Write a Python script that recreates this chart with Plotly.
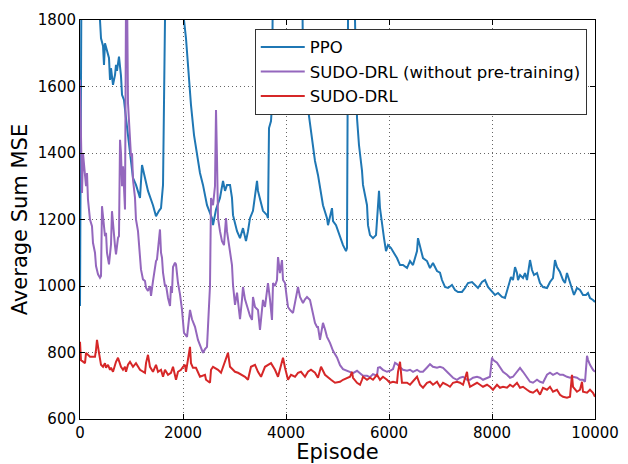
import plotly.graph_objects as go

# ---- data ----
ppo_ep = [0, 19, 39, 350, 369, 388, 408, 447, 466, 485, 524, 563, 583, 602, 641, 680, 699, 718, 757, 796, 816, 854, 893, 932, 971,
          1029, 1087, 1165, 1204, 1262, 1320, 1417, 1476, 1534, 1573, 1612, 1650, 1670, 1689, 2000, 2019, 2058, 2097, 2155, 2214,
          2272, 2330, 2388, 2466, 2563, 2583, 2641, 2718, 2777, 2816, 2854, 2913, 2951, 2971, 3049, 3107, 3165, 3223, 3262, 3301,
          3359, 3437, 3456, 3515, 3553, 3631, 3650, 3670, 3709, 3728, 3748, 3767, 4291, 4311, 4330, 4408, 4466, 4524, 4563, 4621,
          4660, 4718, 4796, 4816, 4893, 4913, 4971, 5010, 5068, 5107, 5165, 5184, 5204, 5223, 5320, 5340, 5379, 5417, 5476, 5495,
          5573, 5592, 5631, 5689, 5748, 5786, 5806, 5825, 5864, 5903, 5942, 5981, 6039, 6078, 6155, 6214, 6272, 6350, 6408, 6466,
          6544, 6563, 6602, 6660, 6738, 6796, 6854, 6932, 6990, 7029, 7087, 7146, 7223, 7282, 7340, 7417, 7476, 7534, 7612, 7670,
          7728, 7806, 7864, 7922, 8000, 8058, 8117, 8194, 8252, 8311, 8369, 8408, 8447, 8485, 8505, 8544, 8602, 8641, 8680, 8738,
          8777, 8816, 8874, 8932, 8990, 9068, 9126, 9184, 9223, 9262, 9320, 9379, 9417, 9456, 9495, 9553, 9592, 9650, 9709, 9767,
          9825, 9864, 9903, 9961, 10000]
ppo_val = [940, 1500, 2300, 2300, 1850, 1800, 1745, 1722, 1665, 1730, 1710, 1686, 1620, 1655, 1605, 1635, 1665, 1647, 1690, 1632, 1575, 1560, 1505, 1450, 1406,
           1325, 1304, 1265, 1364, 1325, 1286, 1243, 1210, 1226, 1234, 1304, 1604, 1800, 2300, 2300, 1800, 1745, 1655, 1545, 1454,
           1394, 1340, 1304, 1243, 1204, 1183, 1230, 1265, 1316, 1286, 1304, 1304, 1265, 1213, 1165, 1144, 1174, 1135, 1165, 1204,
           1226, 1316, 1286, 1243, 1226, 1213, 1204, 1475, 1496, 1545, 1800, 2400, 2400, 1800, 1655, 1556, 1484, 1424, 1376, 1334,
           1300, 1243, 1204, 1183, 1234, 1195, 1183, 1165, 1144, 1123, 1105, 1114, 1800, 2400, 2400, 1800, 1505, 1424, 1346, 1304,
           1243, 1183, 1153, 1144, 1153, 1243, 1286, 1234, 1183, 1144, 1105, 1123, 1114, 1105, 1084, 1063, 1063, 1054, 1075, 1063,
           1105, 1144, 1123, 1084, 1075, 1054, 1069, 1045, 1040, 1018, 997, 994, 1003, 988, 982, 982, 994, 1009, 1012, 1003,
           994, 1012, 1018, 997, 982, 973, 979, 967, 964, 994, 1027, 1018, 1057, 1039, 1018, 1033, 1024, 1039, 1018, 1078,
           1048, 1033, 1039, 1009, 997, 994, 1012, 1024, 1078, 1057, 1042, 1018, 1009, 1039, 1018, 988, 973, 994, 988, 973,
           973, 979, 964, 958, 952]

sudo_np_ep = [0, 19, 39, 58, 97, 117, 136, 155, 194, 233, 252, 291, 311, 350, 388, 408, 427, 447, 485, 505, 524, 563, 583, 602, 621,
              641, 680, 699, 738, 757, 777, 796, 816, 835, 854, 874, 893, 913, 932, 971, 990, 1010, 1029, 1068, 1087, 1126, 1165,
              1184, 1223, 1262, 1282, 1320, 1359, 1379, 1417, 1456, 1476, 1495, 1515, 1553, 1573, 1592, 1612, 1650, 1670, 1709,
              1748, 1767, 1786, 1806, 1845, 1864, 1903, 1942, 1981, 2019, 2078, 2136, 2175, 2233, 2291, 2369, 2388, 2427, 2466,
              2485, 2524, 2544, 2583, 2621, 2641, 2660, 2680, 2718, 2757, 2796, 2835, 2854, 2893, 2951, 2971, 3010, 3049, 3107,
              3146, 3165, 3204, 3262, 3301, 3340, 3359, 3398, 3456, 3495, 3534, 3553, 3592, 3631, 3650, 3689, 3728, 3748, 3786,
              3825, 3845, 3883, 3922, 3942, 3981, 4019, 4039, 4078, 4136, 4175, 4214, 4233, 4272, 4330, 4369, 4408, 4466, 4524,
              4563, 4602, 4621, 4660, 4699, 4718, 4757, 4796, 4854, 4913, 4990, 5049, 5107, 5184, 5243, 5301, 5379, 5437, 5495,
              5573, 5631, 5689, 5767, 5786, 5825, 5883, 5961, 6019, 6078, 6117, 6155, 6214, 6272, 6350, 6408, 6466, 6544, 6602,
              6660, 6738, 6796, 6854, 6932, 6990, 7049, 7126, 7184, 7243, 7320, 7379, 7437, 7515, 7573, 7631, 7709, 7767, 7825,
              7903, 7961, 8000, 8019, 8097, 8155, 8214, 8291, 8350, 8408, 8485, 8544, 8602, 8680, 8738, 8796, 8874, 8932, 8990,
              9068, 9126, 9184, 9262, 9320, 9379, 9456, 9515, 9573, 9650, 9709, 9767, 9806, 9845, 9864, 9903, 9961, 10000]
sudo_np_val = [1620, 1420, 1280, 1400, 1340, 1300, 1340, 1260, 1200, 1180, 1130, 1100, 1060, 1035, 1025, 1030, 1240, 1200, 1150, 1160, 1100, 1065, 1100, 1125, 1225,
               1180, 1120, 1095, 1145, 1150, 1440, 1400, 1300, 1360, 1270, 1230, 1850, 1900, 1550, 1420, 1390, 1400, 1320, 1265, 1200, 1165, 1100,
               1050, 1020, 1015, 995, 985, 1000, 970, 1015, 1060, 1075, 1080, 1110, 1170, 1100, 1085, 1040, 1000, 1003, 964,
               940, 1000, 979, 1057, 1070, 1065, 1009, 975, 928, 859, 847, 928, 900, 877, 838, 808, 799, 810, 817,
               877, 1000, 1265, 1243, 1300, 1529, 1385, 1204, 1165, 1135, 1123, 1204, 1165, 1123, 1063, 1003, 943, 980, 900,
               960, 997, 960, 928, 910, 898, 967, 937, 928, 868, 919, 958, 937, 997, 1009, 960, 898, 1009, 1000,
               1018, 1087, 1039, 1078, 1018, 1009, 960, 937, 928, 919, 950, 979, 997, 967, 949, 960, 967, 958, 919,
               889, 877, 877, 838, 868, 889, 870, 847, 829, 805, 785, 762, 750, 745, 742, 738, 745, 737, 730,
               730, 726, 735, 730, 754, 756, 748, 742, 745, 750, 769, 765, 756, 748, 745, 748, 742, 748, 742,
               742, 755, 765, 757, 754, 757, 754, 742, 733, 724, 718, 724, 727, 718, 718, 724, 727, 724, 718,
               724, 727, 785, 778, 769, 754, 742, 733, 724, 727, 742, 754, 742, 724, 712, 709, 718, 712, 709,
               733, 739, 733, 739, 733, 733, 727, 724, 727, 724, 718, 718, 712, 790, 778, 763, 748, 742]

sudo_ep = [0, 19, 97, 117, 194, 291, 311, 330, 369, 388, 408, 447, 485, 505, 544, 583, 602, 641, 680, 699, 738, 796, 835, 874, 893,
           932, 971, 1029, 1087, 1165, 1262, 1282, 1320, 1359, 1417, 1476, 1515, 1573, 1612, 1650, 1709, 1767, 1806, 1864, 1903,
           1961, 2000, 2039, 2058, 2136, 2155, 2194, 2252, 2330, 2427, 2447, 2524, 2544, 2583, 2680, 2738, 2874, 2913, 3010, 3068,
           3204, 3262, 3320, 3398, 3456, 3515, 3592, 3709, 3786, 3845, 3942, 3981, 4039, 4097, 4175, 4233, 4291, 4369, 4427, 4485,
           4563, 4621, 4680, 4757, 4816, 4874, 4951, 5010, 5049, 5107, 5184, 5243, 5282, 5301, 5379, 5437, 5476, 5495, 5573, 5631,
           5689, 5767, 5825, 5883, 5961, 6019, 6078, 6155, 6175, 6214, 6252, 6350, 6408, 6466, 6544, 6602, 6660, 6738, 6796, 6854,
           6932, 6990, 7049, 7126, 7184, 7243, 7320, 7379, 7437, 7515, 7534, 7573, 7631, 7709, 7767, 7825, 7903, 7961, 8019, 8097,
           8155, 8214, 8291, 8350, 8408, 8485, 8544, 8602, 8680, 8738, 8796, 8874, 8932, 8990, 9068, 9126, 9184, 9262, 9320, 9379,
           9456, 9515, 9553, 9573, 9650, 9709, 9748, 9767, 9845, 9903, 9961, 10000]
sudo_val = [832, 777, 768, 799, 787, 787, 808, 838, 799, 777, 763, 757, 768, 754, 763, 748, 754, 742, 763, 772, 784, 757, 748, 757, 742,
            763, 772, 757, 768, 748, 739, 768, 793, 757, 742, 763, 742, 748, 727, 748, 733, 739, 757, 718, 742,
            748, 757, 763, 742, 817, 768, 754, 754, 727, 733, 718, 709, 748, 757, 748, 739, 799, 757, 742, 739,
            727, 718, 757, 763, 742, 727, 757, 768, 748, 727, 784, 754, 718, 733, 727, 739, 742, 727, 742, 748,
            739, 724, 757, 733, 724, 718, 709, 712, 712, 718, 724, 727, 742, 724, 709, 703, 718, 727, 718, 724,
            718, 733, 718, 727, 718, 709, 712, 709, 742, 772, 709, 709, 703, 712, 727, 703, 694, 709, 712, 703,
            712, 697, 709, 703, 697, 709, 712, 709, 703, 742, 718, 697, 703, 709, 703, 697, 703, 697, 688, 703,
            694, 697, 694, 703, 697, 709, 694, 697, 688, 682, 679, 688, 673, 694, 688, 697, 682, 688, 673, 667,
            664, 667, 733, 697, 682, 688, 712, 682, 679, 688, 679, 667]

x_ticks = [0, 2000, 4000, 6000, 8000, 10000]
y_ticks = [600, 800, 1000, 1200, 1400, 1600, 1800]

names = ["PPO", "SUDO-DRL (without pre-training)", "SUDO-DRL"]
colors = ["#1f77b4", "#9467bd", "#d62728"]

fig = go.Figure()
series = [(ppo_ep, ppo_val), (sudo_np_ep, sudo_np_val), (sudo_ep, sudo_val)]
for (xs, ys), nm, c in zip(series, names, colors):
    fig.add_trace(go.Scatter(x=xs, y=ys, mode="lines", name=nm,
                             line=dict(color=c, width=2)))

axis_common = dict(showline=True, linecolor="black", linewidth=1, mirror="allticks",
                   ticks="inside", ticklen=5, tickcolor="black", automargin=False,
                   showgrid=True, gridcolor="rgba(0,0,0,0.6)", gridwidth=1, griddash="1px,3px",
                   zeroline=False, tickfont=dict(size=15, color="black"))

fig.update_xaxes(range=[0, 10000], tickvals=x_ticks, ticktext=[str(v) for v in x_ticks],
                 title=dict(text="Episode", font=dict(size=21, color="black"), standoff=4), **axis_common)
fig.update_yaxes(range=[600, 1800], tickvals=y_ticks, ticktext=[str(v) for v in y_ticks],
                 title=dict(text="Average Sum MSE", font=dict(size=21, color="black"), standoff=4), **axis_common)

fig.update_layout(
    width=628, height=464,
    margin=dict(l=80, r=33, t=20, b=45),
    paper_bgcolor="white", plot_bgcolor="white",
    font=dict(family="DejaVu Sans", color="black"),
    legend=dict(x=0.984, y=0.978, xanchor="right", yanchor="top",
                bordercolor="#333333", borderwidth=1, bgcolor="white",
                font=dict(size=16.5), itemwidth=44, traceorder="normal"),
    showlegend=True,
)

fig.write_html("out.html", config={"displayModeBar": False},
               post_script="document.body.style.margin='0px';")
